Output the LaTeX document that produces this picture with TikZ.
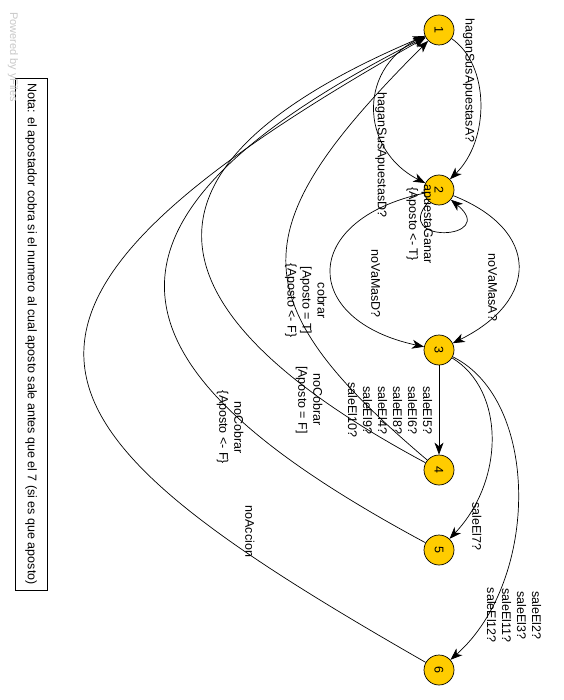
\documentclass[tikz,border=0pt]{standalone}
\usepackage{fontspec}
\setmainfont{Liberation Sans}
\usetikzlibrary{arrows.meta}
\usetikzlibrary{automata}
\definecolor{stategold}{HTML}{FFCC00}
\definecolor{markgray}{HTML}{C8C8C8}
\tikzset{
  every state/.style={draw=black, fill=stategold, minimum size=30pt, inner sep=0pt, rotate=-90},
  lbl/.style={rotate=-90, align=center, inner sep=0pt},
}
\begin{document}
\begin{tikzpicture}[x=1pt, y=-1pt, ->, >={Stealth[length=12pt,width=9pt,inset=3.5pt]}, line width=0.7pt, font=\fontsize{12.5}{15}\selectfont]
        \useasboundingbox (0,0) rectangle (563,700);
        \node[state] (s1) at (439,30) {1};
        \node[state] (s2) at (439,190) {2};
        \node[state] (s3) at (439,350) {3};
        \node[state] (s4) at (439,470) {4};
        \node[state] (s5) at (439,550) {5};
        \node[state] (s6) at (439,670) {6};

        \node[draw, rotate=-90, minimum width=512pt, minimum height=32pt] (nota) at (31,334)
            {Nota: el apostador cobra si el numero al cual aposto sale antes que el 7 (si es que aposto)};
        \node[lbl, text=markgray, font=\fontsize{11}{13}\selectfont] (marca) at (13,57) {Powered by yFiles};

        \draw (s1) .. controls (490,65) and (490,140) .. node[pos=.35, xshift=-9pt, lbl] {haganSusApuestasA?} (s2);
        \draw (s1) .. controls (355,65) and (360,150) .. node[pos=.7, xshift=-2pt, yshift=-13pt, lbl] {haganSusApuestasD?} (s2);
        \draw (s2) .. controls (390,245) and (500,240) .. node[pos=.5, xshift=-24pt, yshift=8pt, lbl] {apuestaGanar\\\{Aposto <- T\}} (s2);
        \draw (s2) .. controls (540,230) and (540,300) .. node[pos=.6, xshift=-23pt, yshift=-5pt, lbl] {noVaMasA?} (s3);
        \draw (s2) .. controls (300,220) and (300,320) .. node[pos=.6, xshift=41pt, yshift=5pt, lbl] {noVaMasD?} (s3);
        \draw (s3) -- node[xshift=-49pt, lbl] {saleEl5?\\saleEl6?\\saleEl8?\\saleEl4?\\saleEl9?\\saleEl10?} (s4);
        \draw (s3) .. controls (505,390) and (505,480) .. node[pos=.85, xshift=6pt, yshift=-16pt, lbl] {saleEl7?} (s5);
        \draw (s3) .. controls (540,400) and (540,580) .. node[pos=.82, xshift=24pt, yshift=-7pt, lbl] {saleEl2?\\saleEl3?\\saleEl11?\\saleEl12?} (s6);
        \draw (s4) .. controls (237,299) and (242,227) .. node[pos=.4, xshift=14pt, yshift=-4pt, lbl] {cobrar\\{}[Aposto = T]\\\{Aposto <- F\}} (s1);
        \draw (s4) .. controls (137,308) and (120,165) .. node[pos=.15, xshift=-5pt, yshift=-6pt, lbl] {noCobrar\\{}[Aposto = F]} (s1);
        \draw (s5) .. controls (119,378) and (41,231) .. node[pos=.25, xshift=-12pt, yshift=-6pt, lbl] {noCobrar\\\{Aposto <- F\}} (s1);
        \draw (s6) .. controls (20,430) and (-75,320) .. node[pos=.2, xshift=28pt, yshift=4pt, lbl] {noAccion} (s1);
    \end{tikzpicture}
\end{document}
